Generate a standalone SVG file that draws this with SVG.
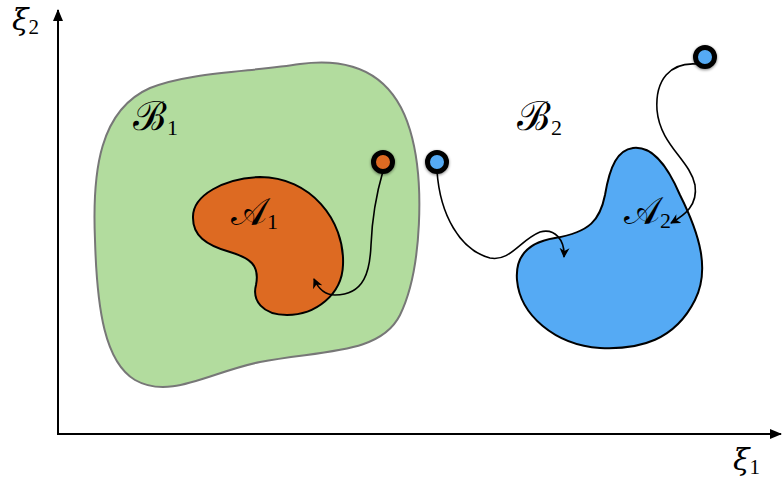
<svg xmlns="http://www.w3.org/2000/svg" width="782" height="486" viewBox="0 0 782 486">
<defs>
<marker id="axhead" viewBox="0 0 12 10" refX="11" refY="5" markerWidth="12" markerHeight="10" markerUnits="userSpaceOnUse" orient="auto">
<path d="M0,0 L12,5 L0,10 Z" fill="#000"/>
</marker>
<marker id="arr" viewBox="0 0 10 10" refX="9" refY="5" markerWidth="10" markerHeight="10" markerUnits="userSpaceOnUse" orient="auto">
<path d="M0,0 L10,5 L0,10 L3,5 Z" fill="#000"/>
</marker>
<filter id="sh" x="-50%" y="-50%" width="200%" height="200%">
<feGaussianBlur in="SourceAlpha" stdDeviation="1.5"/>
<feOffset dx="0" dy="1" result="b"/>
<feComponentTransfer><feFuncA type="linear" slope="0.5"/></feComponentTransfer>
<feMerge><feMergeNode/><feMergeNode in="SourceGraphic"/></feMerge>
</filter>
</defs>
<style>
.lbl{font-family:"DejaVu Serif","Liberation Serif",serif;fill:#000}
.sub{font-family:"Liberation Serif",serif;font-style:normal}
.traj{fill:none;stroke:#000;stroke-width:1.6;marker-end:url(#arr)}
.pt{stroke:#000;stroke-width:5;filter:url(#sh)}
</style>
<rect width="782" height="486" fill="#fff"/>
<g id="axes">
<line x1="58" y1="434" x2="58" y2="10" stroke="#000" stroke-width="2" marker-end="url(#axhead)"/>
<line x1="57" y1="434" x2="781" y2="434" stroke="#000" stroke-width="2" marker-end="url(#axhead)"/>
<text class="lbl" x="12" y="30" font-size="30" font-style="italic" font-family="Liberation Serif">ξ<tspan class="sub" font-size="21" dy="4">2</tspan></text>
<text class="lbl" x="733" y="470" font-size="30" font-style="italic" font-family="Liberation Serif">ξ<tspan class="sub" font-size="21" dy="4">1</tspan></text>
</g>
<g id="B1">
<path d="M95,240 C92,170 100,110 150,88 C190,72 250,72 300,64 C360,56 395,80 410,130 C425,180 422,270 400,315 C380,355 320,350 260,362 C210,372 170,400 135,380 C105,362 97,310 95,240 Z" fill="#B2DC9E" stroke="#777" stroke-width="2"/>
<text class="lbl" x="133" y="130" font-size="40">ℬ<tspan class="sub" font-size="22" dy="5">1</tspan></text>
</g>
<g id="A1">
<path d="M193,218 C192,195 225,178 260,177 C310,177 345,220 343,265 C342,295 315,315 287,315 C262,315 252,300 256,285 C260,265 250,258 230,252 C205,245 193,235 193,218 Z" fill="#DD6A22" stroke="#000" stroke-width="2"/>
<text class="lbl" x="231" y="225" font-size="38">𝒜<tspan class="sub" font-size="22" dy="4">1</tspan></text>
</g>
<g id="B2">
<text class="lbl" x="517" y="130" font-size="40">ℬ<tspan class="sub" font-size="22" dy="5">2</tspan></text>
</g>
<g id="A2">
<path d="M633,148 C650,146 665,160 680,195 C700,235 710,270 695,300 C675,340 640,350 600,348 C555,345 520,315 517,280 C515,255 530,242 555,238 C590,232 600,220 605,195 C610,165 618,150 633,148 Z" fill="#55AAF4" stroke="#000" stroke-width="2"/>
<text class="lbl" x="624" y="224" font-size="38">𝒜<tspan class="sub" font-size="22" dy="4">2</tspan></text>
</g>
<g id="connectors">
<path class="traj" d="M383,171 C376,195 372,220 371,245 C370,270 365,295 335,295 C325,295 318,288 314,279"/>
<path class="traj" d="M437,171 C440,215 460,250 490,258 C510,262 520,240 540,232 C555,228 565,240 564,257"/>
<path class="traj" d="M697,64 C670,62 655,80 657,110 C660,145 690,160 695,185 C698,205 685,215 671,223"/>
</g>
<g id="p1"><circle class="pt" cx="383" cy="162" r="9.5" fill="#DD6A22"/></g>
<g id="p2"><circle class="pt" cx="437" cy="162" r="9.5" fill="#55AAF4"/></g>
<g id="p3"><circle class="pt" cx="705" cy="57" r="9.5" fill="#55AAF4"/></g>
</svg>
